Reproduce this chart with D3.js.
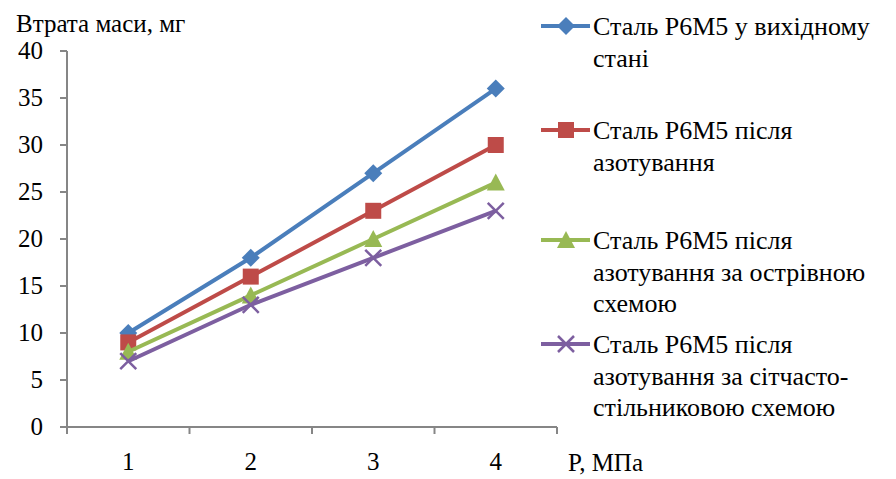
<!DOCTYPE html>
<meta charset="utf-8">
<style>
body { margin: 0; background: #fff; }
</style>
<body>
<script src="https://d3js.org/d3.v7.min.js"></script>
<script>

let width = 896;
let height = 479;
let font = "'Liberation Serif', 'DejaVu Serif', 'Noto Serif', FreeSerif, serif";

let categories = ["1", "2", "3", "4"];
let yTicks = [0, 5, 10, 15, 20, 25, 30, 35, 40];
let names = [
  ["Сталь Р6М5 у вихідному", "стані"],
  ["Сталь Р6М5 після", "азотування"],
  ["Сталь Р6М5 після", "азотування за острівною", "схемою"],
  ["Сталь Р6М5 після", "азотування за сітчасто-", "стільниковою схемою"]
];
let initial = [10, 18, 27, 36];
let nitrided = [9, 16, 23, 30];
let island = [8, 14, 20, 26];
let honeycomb = [7, 13, 18, 23];

let series = [
  { values: initial, color: "#4a7ebb", marker: "diamond" },
  { values: nitrided, color: "#be4b48", marker: "square" },
  { values: island, color: "#98b954", marker: "triangle" },
  { values: honeycomb, color: "#7d5fa0", marker: "cross" }
];

let svg = d3.select("body").append("svg")
    .attr("width", width)
    .attr("height", height)
    .attr("font-family", font);

let x = d3.scaleBand().domain(categories).range([67, 557]);
let y = d3.scaleLinear().domain([0, 40]).range([427, 51]);

// axes
let xAxis = svg.append("g").attr("transform", "translate(0,427)");
xAxis.append("line").attr("x1", 60).attr("x2", 557).attr("stroke", "#868686").attr("stroke-width", 2);
xAxis.selectAll(".xt")
  .data(x.domain().map(d => x(d)).concat([557]))
  .enter().append("line")
    .attr("x1", d => d).attr("x2", d => d)
    .attr("y1", 0).attr("y2", 7)
    .attr("stroke", "#868686").attr("stroke-width", 2);
xAxis.selectAll(".xl")
  .data(categories)
  .enter().append("text")
    .attr("x", d => x(d) + x.bandwidth() / 2)
    .attr("y", 43)
    .attr("text-anchor", "middle")
    .attr("font-size", 25)
    .text(d => d);

let yAxis = svg.append("g");
yAxis.append("line").attr("x1", 67).attr("x2", 67).attr("y1", y(40)).attr("y2", 427)
  .attr("stroke", "#868686").attr("stroke-width", 2);
yAxis.selectAll(".yt")
  .data(yTicks)
  .enter().append("line")
    .attr("x1", 60).attr("x2", 67)
    .attr("y1", d => y(d)).attr("y2", d => y(d))
    .attr("stroke", "#868686").attr("stroke-width", 2);
yAxis.selectAll(".yl")
  .data(yTicks)
  .enter().append("text")
    .attr("x", 43)
    .attr("y", d => y(d) + 8)
    .attr("text-anchor", "end")
    .attr("font-size", 25)
    .text(d => d);

svg.append("text").attr("x", 16).attr("y", 32).attr("font-size", 25).text("Втрата маси, мг");
svg.append("text").attr("x", 568).attr("y", 471).attr("font-size", 25).text("P, МПа");

function drawMarker(g, type, color) {
  if (type === "diamond") {
    g.append("path").attr("d", "M0,-9L9,0L0,9L-9,0Z").attr("fill", color);
  } else if (type === "square") {
    g.append("rect").attr("x", -8).attr("y", -8).attr("width", 16).attr("height", 16).attr("fill", color);
  } else if (type === "triangle") {
    g.append("path").attr("d", "M0,-9L9,8L-9,8Z").attr("fill", color);
  } else {
    g.append("path").attr("d", "M-8,-8L8,8M-8,8L8,-8").attr("stroke", color).attr("stroke-width", 2.5);
  }
}

let line = d3.line()
  .x((d, i) => x(categories[i]) + x.bandwidth() / 2)
  .y(d => y(d));

series.forEach(s => {
  svg.append("path")
    .attr("d", line(s.values))
    .attr("fill", "none")
    .attr("stroke", s.color)
    .attr("stroke-width", 4);
  s.values.forEach((v, i) => {
    let g = svg.append("g").attr("transform", `translate(${x(categories[i]) + x.bandwidth() / 2},${y(v)})`);
    drawMarker(g, s.marker, s.color);
  });
});

// legend
let legendY = [26, 130, 240, 344];
series.forEach((s, k) => {
  let g = svg.append("g").attr("transform", `translate(0,${legendY[k]})`);
  g.append("line").attr("x1", 541).attr("x2", 590).attr("stroke", s.color).attr("stroke-width", 4);
  let m = g.append("g").attr("transform", "translate(566,0)");
  drawMarker(m, s.marker, s.color);
  names[k].forEach((t, j) => {
    g.append("text")
      .attr("x", 593)
      .attr("y", 9 + j * 31.5)
      .attr("font-size", 26)
      .text(t);
  });
});

</script>
